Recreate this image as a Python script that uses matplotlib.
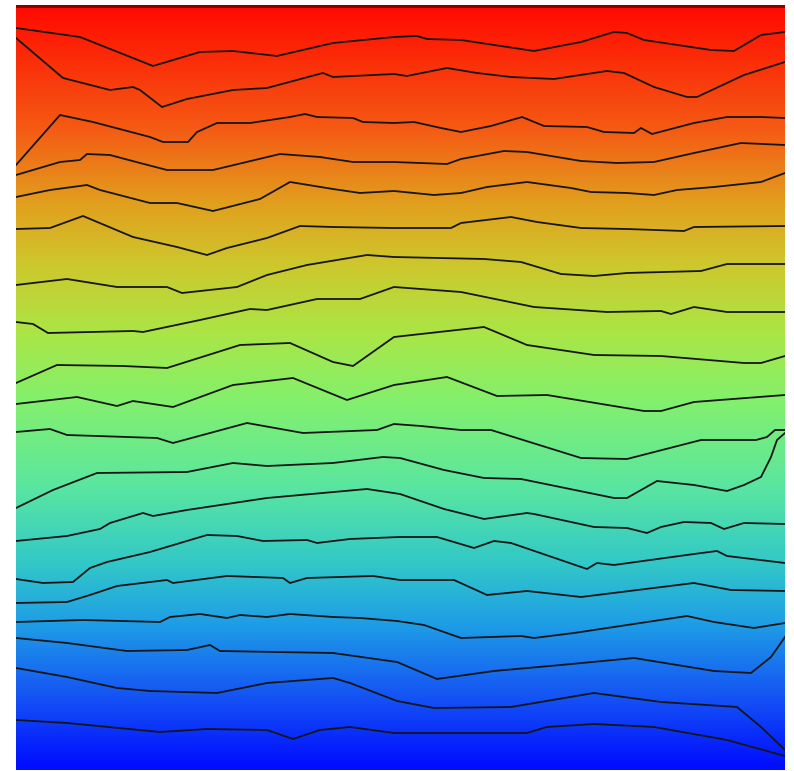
import matplotlib.pyplot as plt
import numpy as np
from matplotlib.colors import LinearSegmentedColormap

# grid size of the field (columns x rows), row 0 at the top
n_cols = 769
n_rows = 765

# contour lines traced as (column, row) vertices, top to bottom
c01 = [(0, 23), (64, 32), (137, 61), (184, 47), (217, 46), (261, 51), (317, 38), (378, 32),
       (401, 31), (411, 34), (445, 35), (518, 46), (565, 37), (598, 27), (611, 28), (628, 35),
       (695, 45), (718, 46), (745, 30), (769, 27)]
c02 = [(0, 33), (47, 73), (94, 85), (117, 82), (124, 85), (146, 102), (171, 94), (217, 85),
       (251, 83), (307, 68), (317, 72), (378, 69), (391, 71), (431, 63), (461, 68), (495, 72),
       (538, 74), (591, 66), (608, 68), (638, 82), (671, 92), (681, 92), (728, 70), (769, 57)]
c03 = [(0, 160), (44, 110), (77, 117), (134, 132), (147, 137), (172, 137), (181, 127), (201, 118),
       (234, 118), (274, 112), (289, 109), (301, 112), (337, 113), (347, 117), (378, 118),
       (398, 117), (425, 123), (445, 127), (475, 121), (506, 112), (528, 121), (571, 122),
       (588, 127), (618, 128), (625, 123), (636, 129), (678, 118), (711, 112), (745, 112), (769, 113)]
c04 = [(0, 170), (44, 157), (64, 155), (71, 149), (94, 150), (124, 158), (151, 165), (197, 165),
       (264, 149), (304, 152), (337, 157), (378, 157), (431, 159), (445, 154), (488, 146),
       (511, 147), (565, 156), (601, 158), (638, 157), (678, 148), (725, 138), (769, 140)]
c05 = [(0, 192), (34, 185), (71, 180), (84, 185), (134, 198), (161, 198), (197, 206), (244, 194),
       (274, 177), (317, 184), (344, 188), (378, 186), (418, 190), (445, 188), (471, 182),
       (511, 177), (555, 183), (575, 187), (611, 188), (638, 190), (661, 185), (698, 182),
       (745, 177), (769, 168)]
c06 = [(0, 224), (34, 223), (67, 211), (117, 232), (161, 242), (191, 250), (211, 243), (251, 233),
       (284, 221), (317, 222), (378, 223), (435, 223), (445, 218), (495, 212), (521, 217),
       (565, 223), (611, 224), (668, 226), (678, 222), (769, 221)]
c07 = [(0, 280), (51, 274), (101, 282), (151, 282), (166, 288), (221, 282), (251, 270), (291, 260),
       (351, 250), (378, 252), (468, 254), (505, 257), (545, 269), (578, 271), (611, 268),
       (685, 266), (711, 259), (769, 259)]
c08 = [(0, 317), (17, 319), (32, 328), (117, 326), (127, 327), (184, 315), (234, 304), (251, 305),
       (301, 294), (344, 294), (378, 282), (445, 287), (518, 302), (591, 307), (645, 306),
       (655, 309), (678, 302), (711, 307), (769, 307)]
c09 = [(0, 378), (41, 360), (107, 361), (151, 363), (224, 340), (274, 338), (317, 357), (337, 361),
       (378, 332), (468, 322), (511, 340), (578, 350), (645, 351), (728, 358), (745, 358), (769, 351)]
c10 = [(0, 399), (61, 392), (101, 401), (117, 396), (157, 402), (217, 380), (277, 373), (331, 395),
       (378, 380), (431, 372), (481, 391), (531, 390), (628, 406), (645, 406), (678, 397), (769, 390)]
c11 = [(0, 427), (34, 424), (51, 430), (141, 433), (157, 438), (231, 418), (287, 428), (361, 425),
       (378, 419), (405, 421), (445, 425), (475, 425), (565, 453), (611, 454), (685, 435),
       (740, 435), (751, 432), (759, 425), (769, 425)]
c12 = [(0, 503), (37, 485), (81, 468), (171, 467), (217, 458), (251, 461), (317, 458), (367, 452),
       (384, 453), (428, 465), (468, 473), (505, 474), (598, 493), (611, 493), (641, 476),
       (678, 480), (711, 486), (728, 480), (745, 472), (755, 452), (761, 435), (769, 428)]
c13 = [(0, 536), (51, 531), (84, 524), (94, 518), (127, 508), (137, 511), (171, 505), (251, 493),
       (351, 484), (384, 489), (428, 504), (468, 514), (511, 508), (518, 509), (578, 522),
       (611, 523), (631, 528), (645, 522), (668, 517), (695, 518), (708, 524), (728, 518), (769, 519)]
c14 = [(0, 574), (27, 578), (57, 577), (74, 563), (91, 557), (134, 547), (191, 530), (221, 531),
       (247, 536), (291, 535), (301, 538), (334, 534), (384, 532), (421, 532), (458, 543),
       (478, 536), (495, 538), (571, 564), (581, 558), (598, 560), (678, 549), (701, 546),
       (711, 551), (769, 558)]
c15 = [(0, 598), (51, 597), (74, 590), (101, 581), (151, 575), (157, 578), (211, 571), (267, 573),
       (274, 578), (291, 573), (357, 571), (384, 575), (438, 575), (471, 590), (511, 586),
       (565, 592), (678, 578), (715, 585), (769, 586)]
c16 = [(0, 617), (67, 615), (144, 617), (154, 612), (184, 609), (211, 613), (224, 610), (251, 612),
       (274, 609), (317, 612), (344, 613), (381, 616), (408, 620), (445, 633), (505, 631),
       (518, 633), (558, 628), (671, 611), (698, 617), (738, 623), (769, 618)]
c17 = [(0, 633), (51, 638), (111, 646), (171, 645), (194, 640), (204, 646), (317, 648), (381, 657),
       (421, 674), (478, 666), (545, 660), (618, 653), (698, 666), (735, 668), (755, 652), (769, 632)]
c18 = [(0, 663), (51, 672), (101, 683), (134, 686), (201, 688), (251, 678), (317, 673), (334, 678),
       (381, 696), (418, 703), (495, 702), (578, 688), (645, 697), (721, 702), (745, 722), (769, 745)]
c19 = [(0, 715), (51, 718), (144, 727), (191, 724), (251, 725), (277, 734), (304, 725), (334, 722),
       (378, 728), (511, 728), (531, 722), (578, 719), (638, 722), (711, 735), (769, 751)]

contours = [c01, c02, c03, c04, c05, c06, c07, c08, c09, c10,
            c11, c12, c13, c14, c15, c16, c17, c18, c19]

# softened jet-like ramp, low (bottom) to high (top)
field_cmap = LinearSegmentedColormap.from_list("soft_jet", [
    (0.00, "#000cff"),
    (0.09, "#1450f5"),
    (0.19, "#1e9ee6"),
    (0.27, "#32c8c8"),
    (0.37, "#5ae6a0"),
    (0.48, "#82f06e"),
    (0.57, "#aae646"),
    (0.66, "#cdc82d"),
    (0.74, "#e1a01e"),
    (0.84, "#f55a14"),
    (1.00, "#ff0a00"),
])

fig = plt.figure(figsize=(7.94, 7.71), dpi=100)
ax = fig.add_axes([16 / 794, 1 / 771, 769 / 794, 765 / 771])

# background field: value rises from bottom row to top row
level = np.linspace(1, 0, 256).reshape(-1, 1)
ax.imshow(level, cmap=field_cmap, vmin=0, vmax=1, aspect="auto",
          extent=(0, n_cols, n_rows, 0), interpolation="bilinear")

for c in contours:
    pts = np.array(c, dtype=float)
    ax.plot(pts[:, 0], pts[:, 1], color="#161616", lw=1.3, solid_joinstyle="miter")

# darker rim along the top row
ax.axhline(0.5, color="#8a0000", lw=2.2)

ax.set_xlim(0, n_cols)
ax.set_ylim(n_rows, 0)
ax.axis("off")

fig.savefig("out.png", dpi=100)
